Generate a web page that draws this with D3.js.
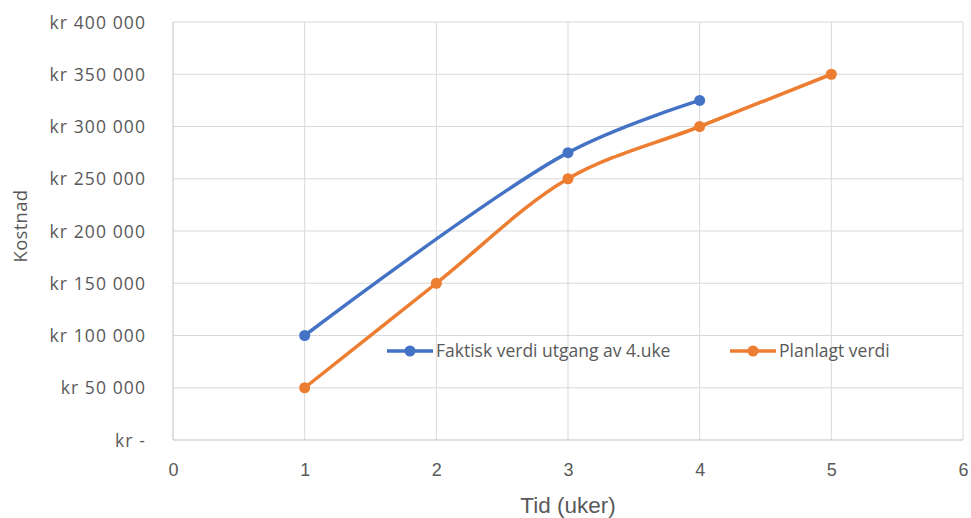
<!DOCTYPE html>
<html>
<head>
<meta charset="utf-8">
<script src="https://cdn.jsdelivr.net/npm/d3@7"></script>
<style>
  html, body { margin: 0; padding: 0; background: #fff; }
  svg { display: block; }
</style>
</head>
<body>
<svg id="chart" width="971" height="518"></svg>
<script>
// Week numbers and cost values for each series
const actualWeeks = [1, 3, 4];
const actualCost = [100000, 275000, 325000];
const plannedWeeks = [1, 2, 3, 4, 5];
const plannedCost = [50000, 150000, 250000, 300000, 350000];
const seriesNames = ["Faktisk verdi utgang av 4.uke", "Planlagt verdi"];
const xTicks = [0, 1, 2, 3, 4, 5, 6];
const yTicks = [0, 50000, 100000, 150000, 200000, 250000, 300000, 350000, 400000];

const svg = d3.select("#chart");
const plotLeft = 173, plotRight = 963, plotTop = 22, plotBottom = 440;
const textColor = "#595959";
const gridColor = "#d9d9d9";
const blue = "#4472C4", orange = "#ED7D31";

const x = d3.scaleLinear().domain([0, 6]).range([plotLeft, plotRight]);
const y = d3.scaleLinear().domain([0, 400000]).range([plotBottom, plotTop]);

// Currency labels: "kr 400 000", zero shown as "kr -"
const fmt = v => v === 0 ? "kr -" : "kr " + d3.format(",")(v).replace(/,/g, " ");

// Gridlines
svg.append("g").selectAll("line").data(yTicks.filter(v => v > 0)).join("line")
  .attr("x1", plotLeft).attr("x2", plotRight)
  .attr("y1", d => y(d)).attr("y2", d => y(d))
  .attr("stroke", gridColor).attr("stroke-width", 1);
svg.append("g").selectAll("line").data(xTicks.filter(v => v > 0)).join("line")
  .attr("x1", d => x(d)).attr("x2", d => x(d))
  .attr("y1", plotTop).attr("y2", plotBottom)
  .attr("stroke", gridColor).attr("stroke-width", 1);

// Axis lines
svg.append("line").attr("x1", plotLeft).attr("x2", plotLeft).attr("y1", plotTop).attr("y2", plotBottom)
  .attr("stroke", "#bfbfbf").attr("stroke-width", 1);
svg.append("line").attr("x1", plotLeft).attr("x2", plotRight).attr("y1", plotBottom).attr("y2", plotBottom)
  .attr("stroke", "#bfbfbf").attr("stroke-width", 1);

// Y axis tick labels
const yAxis = d3.axisLeft(y).tickValues(yTicks).tickFormat(fmt).tickSize(0).tickPadding(0);
const gy = svg.append("g").attr("transform", "translate(146,0)").call(yAxis);
gy.select(".domain").remove();
gy.selectAll("text")
  .attr("fill", textColor)
  .style("font-family", "'Open Sans', sans-serif")
  .style("font-size", "17.5px")
  .style("letter-spacing", "1.1px")
  .attr("dy", "0.35em");

// X axis tick labels
const xAxis = d3.axisBottom(x).tickValues(xTicks).tickFormat(d3.format("d")).tickSize(0).tickPadding(0);
const gx = svg.append("g").attr("transform", "translate(0,469.5)").call(xAxis);
gx.select(".domain").remove();
gx.selectAll("text")
  .attr("fill", textColor)
  .attr("dy", "0.35em")
  .style("font-family", "'Liberation Sans Narrow', 'Arial Narrow', sans-serif")
  .style("font-size", "18px");

// Axis titles
svg.append("text")
  .attr("x", x(3)).attr("y", 513)
  .attr("text-anchor", "middle")
  .attr("fill", textColor)
  .style("font-family", "'Liberation Sans Narrow', 'Arial Narrow', sans-serif")
  .style("font-size", "22.5px")
  .text("Tid (uker)");

svg.append("text")
  .attr("transform", "translate(20.5,226) rotate(-90)")
  .attr("text-anchor", "middle").attr("dy", "0.35em")
  .attr("fill", textColor)
  .style("font-family", "'Open Sans', sans-serif")
  .style("font-size", "18.5px")
  .style("letter-spacing", "0.3px")
  .text("Kostnad");

// Series lines and markers
const line = d3.line().x(d => x(d[0])).y(d => y(d[1])).curve(d3.curveCatmullRom.alpha(0.5));
const series = [
  { pts: d3.zip(plannedWeeks, plannedCost), color: orange },
  { pts: d3.zip(actualWeeks, actualCost), color: blue }
];
series.forEach(s => {
  svg.append("path").datum(s.pts)
    .attr("d", line).attr("fill", "none")
    .attr("stroke", s.color).attr("stroke-width", 3.5)
    .attr("stroke-linecap", "round").attr("stroke-linejoin", "round");
  svg.append("g").selectAll("circle").data(s.pts).join("circle")
    .attr("cx", d => x(d[0])).attr("cy", d => y(d[1])).attr("r", 5.5)
    .attr("fill", s.color);
});

// Legend
const legendY = 351;
const legendItems = [
  { name: seriesNames[0], color: blue, x0: 387 },
  { name: seriesNames[1], color: orange, x0: 730 }
];
legendItems.forEach(it => {
  svg.append("line").attr("x1", it.x0).attr("x2", it.x0 + 46)
    .attr("y1", legendY).attr("y2", legendY)
    .attr("stroke", it.color).attr("stroke-width", 3.5);
  svg.append("circle").attr("cx", it.x0 + 23).attr("cy", legendY).attr("r", 5.5).attr("fill", it.color);
  svg.append("text").attr("x", it.x0 + 49).attr("y", legendY).attr("dy", "0.35em")
    .attr("fill", textColor)
    .style("font-family", "'Open Sans', sans-serif")
    .style("font-size", "17.5px")
    .text(it.name);
});
</script>
</body>
</html>
